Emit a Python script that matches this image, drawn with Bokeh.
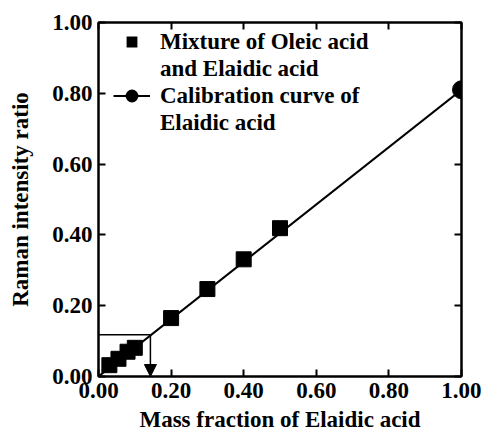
from bokeh.plotting import figure
from bokeh.models import (FixedTicker, NumeralTickFormatter, Legend, LegendItem,
                          Arrow, NormalHead, Range1d, LinearAxis)
from bokeh.embed import file_html
from bokeh.resources import INLINE

# ---- data ----
mixture_x = [0.03, 0.055, 0.08, 0.10, 0.20, 0.30, 0.40, 0.50]
mixture_y = [0.032, 0.050, 0.070, 0.081, 0.165, 0.247, 0.331, 0.419]
calib_line_x = [0.0, 1.0]
calib_line_y = [0.0, 0.81]
elaidic_x = [1.0]
elaidic_y = [0.81]
readout_x = 0.143
readout_y = 0.118
ticks = [0.0, 0.2, 0.4, 0.6, 0.8, 1.0]
axis_lo, axis_hi = 0.0, 1.0

FONT = "Liberation Serif"
FS = "23px"
NAN = float("nan")

p = figure(frame_width=363, frame_height=354,
           output_backend="svg", toolbar_location=None,
           x_range=Range1d(axis_lo, axis_hi), y_range=Range1d(axis_lo, axis_hi),
           min_border_left=98, min_border_right=20, min_border_top=22, min_border_bottom=60)
p.grid.visible = False
p.outline_line_color = "black"
p.outline_line_width = 2
p.background_fill_color = "white"

def style_axis(ax, labels=True):
    ax.ticker = FixedTicker(ticks=ticks)
    ax.formatter = NumeralTickFormatter(format="0.00")
    ax.major_tick_in = 7
    ax.major_tick_out = 0
    ax.minor_tick_in = 0
    ax.minor_tick_out = 0
    ax.axis_line_color = "black"
    ax.axis_line_width = 2
    ax.major_tick_line_color = "black"
    ax.major_tick_line_width = 2
    ax.major_label_text_font = FONT
    ax.major_label_text_font_style = "bold"
    ax.major_label_text_font_size = FS if labels else "0px"
    ax.major_label_text_color = "black"
    ax.axis_label_text_font = FONT
    ax.axis_label_text_font_style = "bold"
    ax.axis_label_text_font_size = FS
    ax.axis_label_text_color = "black"

style_axis(p.xaxis[0])
style_axis(p.yaxis[0])
p.xaxis[0].axis_label = "Mass fraction of Elaidic acid"
p.yaxis[0].axis_label = "Raman intensity ratio"
p.xaxis[0].major_label_standoff = 6
p.xaxis[0].axis_label_standoff = 6
p.yaxis[0].major_label_standoff = 6
p.yaxis[0].axis_label_standoff = 16

top_ax = LinearAxis()
right_ax = LinearAxis()
style_axis(top_ax, labels=False)
style_axis(right_ax, labels=False)
top_ax.major_label_standoff = 0
right_ax.major_label_standoff = 0
p.add_layout(top_ax, "above")
p.add_layout(right_ax, "right")

# read-out lines
p.line(x=[axis_lo, readout_x], y=[readout_y, readout_y], line_color="black", line_width=1.5)
p.add_layout(Arrow(end=NormalHead(size=12, fill_color="black", line_color="black"),
                   x_start=readout_x, y_start=readout_y, x_end=readout_x, y_end=axis_lo,
                   line_color="black", line_width=1.5))

p.line(x=calib_line_x, y=calib_line_y, line_color="black", line_width=2)
p.scatter(x=elaidic_x, y=elaidic_y, marker="circle", size=18,
          fill_color="black", line_color="black")
p.scatter(x=mixture_x, y=mixture_y, marker="square", size=15,
          fill_color="black", line_color="black")

# legend swatches (renderers with no visible points, only drawn in the legend)
lg_sq = p.scatter(x=[NAN], y=[NAN], marker="square", fill_color="black", line_color="black",
                  line_width=4, line_join="miter")
lg_line = p.line(x=[NAN, NAN], y=[NAN, NAN], line_color="black", line_width=2)
lg_circ = p.scatter(x=[NAN], y=[NAN], marker="circle", fill_color="black", line_color="black",
                    line_width=6)
blank = p.scatter(x=[NAN], y=[NAN], marker="square", size=1, fill_alpha=0, line_alpha=0)

legend = Legend(items=[
    LegendItem(label="Mixture of Oleic acid", renderers=[lg_sq]),
    LegendItem(label="and Elaidic acid", renderers=[blank]),
    LegendItem(label="Calibration curve of", renderers=[lg_line, lg_circ]),
    LegendItem(label="Elaidic acid", renderers=[blank]),
], location=(15, 240), margin=0, padding=0, spacing=0,
    glyph_width=37, glyph_height=17, label_height=27, label_standoff=10,
    background_fill_alpha=0, border_line_alpha=0,
    label_text_font=FONT, label_text_font_style="bold", label_text_font_size=FS,
    label_text_color="black")
p.add_layout(legend, "center")

open("out.html", "w").write(file_html(p, INLINE))
